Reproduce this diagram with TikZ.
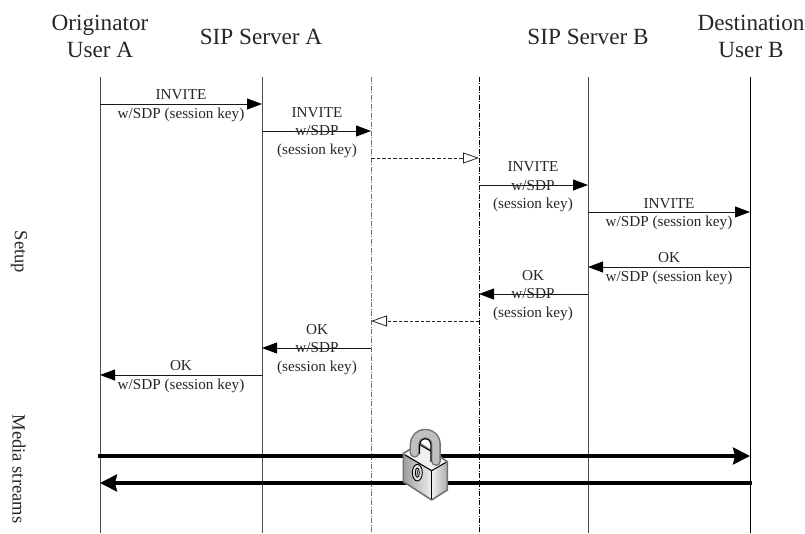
\documentclass[tikz,border=0pt]{standalone}
\usepackage{fontspec}
\setmainfont{Liberation Serif}
\usetikzlibrary{arrows.meta}
\tikzset{
  head/.style={font=\fontsize{23.2}{27}\selectfont,align=center,inner sep=0pt,text=black!85},
  lbl/.style={font=\fontsize{15.2}{18.6}\selectfont,align=center,inner sep=0pt,text=black!85},
  life/.style={line width=0.9pt,black!70},
  lifeblack/.style={line width=0.9pt,black},
  lifedash/.style={line width=0.9pt,dash pattern=on 5pt off 1.5pt on 1pt off 1.5pt},
  msg/.style={line width=0.9pt,black!90,-{Triangle[length=15pt,width=11pt,fill=black,color=black]}},
  dmsg/.style={line width=0.8pt,black!85,dash pattern=on 3.5pt off 2pt,-{Triangle[open,length=16pt,width=11pt,fill=white]}},
  bigmsg/.style={line width=3.3pt,black,-{Stealth[length=17pt,width=17pt,inset=2pt]}},
  side/.style={font=\fontsize{18.6}{22}\selectfont,rotate=-90,inner sep=0pt,text=black!85},
}
\begin{document}
\begin{tikzpicture}[x=1pt,y=-1pt]
\useasboundingbox (0,0) rectangle (805,534);
% lifeline ends
\foreach \n/\x in {A/100,B/262,C/371,D/479,E/588,F/750}{
  \coordinate (\n t) at (\x,77);
  \coordinate (\n b) at (\x,533);
}
\coordinate (As) at (98,456);
\coordinate (Fs) at (752,483);
\draw[life] (At) -- (Ab);
\draw[life] (Bt) -- (Bb);
\draw[lifedash,black!55] (Ct) -- (Cb);
\draw[lifedash,black] (Dt) -- (Db);
\draw[life] (Et) -- (Eb);
\draw[lifeblack] (Ft) -- (Fb);
% headers
\node[head] (h1) at (100,36.5) {Originator\\User A};
\node[head] (h2) at (261,36.5) {SIP Server A};
\node[head] (h3) at (588,36.5) {SIP Server B};
\node[head] (h4) at (751,36.5) {Destination\\User B};
% messages
\draw[msg] (At |- 0,104) -- (Bt |- 0,104);
\node[lbl] (l1) at (181,105.5) {INVITE\\w/SDP (session key)};
\draw[msg] (Bt |- 0,131) -- (Ct |- 0,131);
\node[lbl] (l2) at (317,132.5) {INVITE\\w/SDP\\(session key)};
\draw[dmsg] (Ct |- 0,158) -- (Dt |- 0,158);
\draw[msg] (Dt |- 0,185) -- (Et |- 0,185);
\node[lbl] (l4) at (533,187) {INVITE\\w/SDP\\(session key)};
\draw[msg] (Et |- 0,212) -- (Ft |- 0,212);
\node[lbl] (l5) at (669,214) {INVITE\\w/SDP (session key)};
\draw[msg] (Ft |- 0,267) -- (Et |- 0,267);
\node[lbl] (l6) at (669,268.5) {OK\\w/SDP (session key)};
\draw[msg] (Et |- 0,294) -- (Dt |- 0,294);
\node[lbl] (l7) at (533,295.5) {OK\\w/SDP\\(session key)};
\draw[dmsg] (Dt |- 0,321) -- (Ct |- 0,321);
\draw[msg] (Ct |- 0,348) -- (Bt |- 0,348);
\node[lbl] (l9) at (317,349.5) {OK\\w/SDP\\(session key)};
\draw[msg] (Bt |- 0,375) -- (At |- 0,375);
\node[lbl] (l10) at (181,376.5) {OK\\w/SDP (session key)};
\draw[bigmsg] (As) -- (Ft |- As);
\draw[bigmsg] (Fs) -- (At |- Fs);
% side labels
\node[side] (s1) at (19,252) {Setup};
\node[side] (s2) at (19,469) {Media streams};
% padlock
\begin{scope}[shift={(360,400)},x=0.3333pt,y=-0.3333pt,line join=round]
  % body
  \fill[black!55] (130,160) -- (180,130) -- (262,185) -- (262,270) -- (215,300) -- (130,245) -- cycle;
  \fill[black!6] (130,160) -- (180,130) -- (262,185) -- (215,212) -- cycle;
  \fill[left color=black!38,right color=black!6] (130,160) -- (215,212) -- (215,300) -- (130,245) -- cycle;
  \fill[left color=black!6,right color=black!32] (215,212) -- (262,185) -- (262,270) -- (215,300) -- cycle;
  \draw[line width=1.6pt,black!55] (130,160) -- (180,130) -- (262,185) -- (262,270) -- (215,300) -- (130,245) -- cycle;
  \draw[line width=0.9pt,black] (180,135) -- (215,155);
  \draw[line width=1pt,black] (135,165) -- (215,212) -- (258,187);
  \draw[line width=1pt,black] (215,212) -- (215,296);
  % shackle
  \draw[line width=10pt,black!55,line cap=round] (164,158) -- (164,133) arc[start angle=180,end angle=360,x radius=32,y radius=32] -- (228,183);
  \draw[line width=7pt,black!25,line cap=round] (164,158) -- (164,133) arc[start angle=180,end angle=360,x radius=32,y radius=32] -- (228,183);
  \draw[line width=1pt,black] (179,162) -- (179,133) arc[start angle=180,end angle=360,x radius=17,y radius=17] -- (213,186);
  % keyhole
  \draw[line width=0.9pt,black,fill=black!12] (172,218) ellipse[x radius=15,y radius=25];
  \draw[line width=0.9pt,black,fill=white] (172,218) ellipse[x radius=6,y radius=14];
  \fill[black!70] (172,218) ellipse[x radius=2.5,y radius=9];
\end{scope}
\end{tikzpicture}
\end{document}
